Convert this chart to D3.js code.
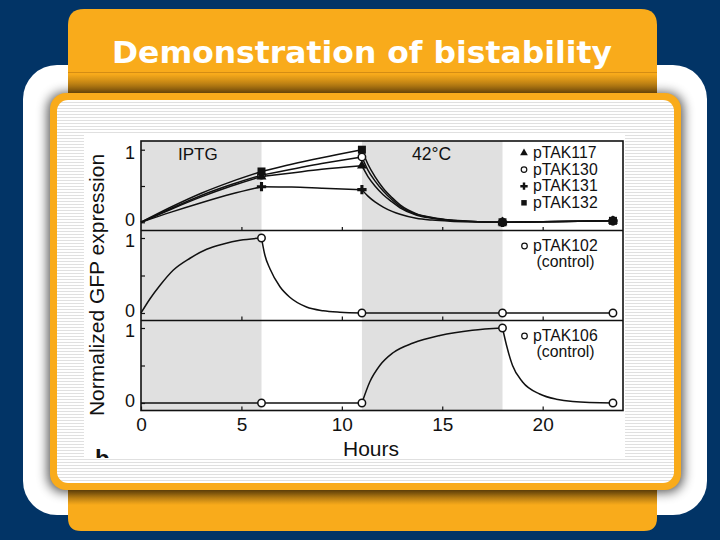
<!DOCTYPE html>
<html lang="en">
<head>
<meta charset="utf-8">
<title>Demonstration of bistability</title>
<script src="https://d3js.org/d3.v7.min.js"></script>
<style>
  html, body { margin: 0; padding: 0; background: #023466; }
  svg { display: block; }
  .chart text { font-family: "Liberation Sans", Arial, Helvetica, sans-serif; fill: #111; }
  .curve { fill: none; stroke: #111; stroke-width: 1.5px; }
  .tick line { stroke: #111; stroke-width: 1.2px; }
</style>
</head>
<body>
<div id="slide"></div>
<script>
// ---- values ----
var hours = [0, 5, 10, 15, 20];          // x tick labels
var markerTimes = [6, 11, 18, 23.5];     // sampling times (open/filled markers)
var breaks = [0, 6, 11, 18, 24];         // medium switches, curves kink here
var iptgWindow = [0, 6];
var heatWindow = [11, 18];

// top panel: toggle plasmids
var toggleNames = ["pTAK117", "pTAK130", "pTAK131", "pTAK132"];
var toggleSymbols = ["triangle", "circle", "plus", "square"];
var pTAK117 = [0.63, 0.78, 0.00, 0.02];
var pTAK130 = [0.65, 0.90, 0.00, 0.02];
var pTAK131 = [0.49, 0.45, 0.00, 0.02];
var pTAK132 = [0.70, 1.00, 0.00, 0.02];

var pTAK117Curve = [[0,0],[1.5,0.18],[3,0.35],[4.5,0.50],[6,0.63],[7.5,0.68],[9,0.73],[11,0.78],
  [11.3,0.63],[11.65,0.50],[12.06,0.38],[12.5,0.28],[12.9,0.20],[13.7,0.10],[14.5,0.055],[15.4,0.026],[16.5,0.01],[18,0],[23.5,0.02]];
var pTAK130Curve = [[0,0],[1.5,0.19],[3,0.37],[4.5,0.52],[6,0.65],[7.5,0.73],[9,0.81],[11,0.90],
  [11.3,0.72],[11.65,0.57],[12.06,0.43],[12.5,0.31],[12.9,0.22],[13.7,0.11],[14.5,0.06],[15.4,0.028],[16.5,0.011],[18,0],[23.5,0.02]];
var pTAK131Curve = [[0,0],[1.5,0.14],[3,0.27],[4.5,0.39],[6,0.49],[7.5,0.485],[9,0.47],[11,0.45],
  [11.3,0.36],[11.65,0.28],[12.06,0.21],[12.5,0.15],[12.9,0.11],[13.7,0.055],[14.5,0.03],[15.4,0.015],[16.5,0.006],[18,0],[23.5,0.02]];
var pTAK132Curve = [[0,0],[1.5,0.21],[3,0.40],[4.5,0.56],[6,0.70],[7.5,0.80],[9,0.89],[11,1.0],
  [11.3,0.80],[11.65,0.63],[12.06,0.47],[12.5,0.34],[12.9,0.24],[13.7,0.12],[14.5,0.065],[15.4,0.03],[16.5,0.012],[18,0],[23.5,0.02]];

// middle panel: control pTAK102
var pTAK102 = [1.0, 0.0, 0.0, 0.0];
var pTAK102Curve = [[0,0],[0.45,0.19],[0.95,0.37],[1.6,0.57],[2.44,0.73],[3.27,0.85],[4.1,0.92],[4.93,0.97],[6,1.0],
  [6.17,0.77],[6.42,0.59],[6.92,0.35],[7.41,0.21],[8.24,0.08],[9.07,0.03],[9.9,0.01],[11,0],[18,0],[23.5,0]];

// bottom panel: control pTAK106
var pTAK106 = [0.0, 0.0, 1.0, 0.0];
var pTAK106Curve = [[0,0],[6,0],[11,0],[11.39,0.28],[11.89,0.50],[12.55,0.67],[13.55,0.80],[14.88,0.90],[16.5,0.97],[18,1.0],
  [18.2,0.77],[18.5,0.50],[19.0,0.28],[19.85,0.12],[20.68,0.05],[21.5,0.02],[23.5,0]];

var orange = "#f9ab1b";

var svg = d3.select("#slide").append("svg")
  .attr("width", 720)
  .attr("height", 540);

var defs = svg.append("defs");

var stripes = defs.append("pattern")
  .attr("id", "stripes")
  .attr("patternUnits", "userSpaceOnUse")
  .attr("width", 6).attr("height", 3);
stripes.append("rect").attr("width", 6).attr("height", 3).attr("fill", "#ffffff");
stripes.append("rect").attr("width", 6).attr("height", 1).attr("fill", "#e0e0e0");

defs.append("filter")
  .attr("id", "shadow")
  .attr("x", "-10%").attr("y", "-10%").attr("width", "120%").attr("height", "120%")
  .append("feGaussianBlur").attr("stdDeviation", 6);

// darkening of the tabs where the panel overlaps them
var topShade = defs.append("linearGradient")
  .attr("id", "topShade").attr("x1", 0).attr("y1", 0).attr("x2", 0).attr("y2", 1);
topShade.append("stop").attr("offset", "0%").attr("stop-color", "#000").attr("stop-opacity", 0);
topShade.append("stop").attr("offset", "100%").attr("stop-color", "#3a2000").attr("stop-opacity", 0.5);
var bottomShade = defs.append("linearGradient")
  .attr("id", "bottomShade").attr("x1", 0).attr("y1", 0).attr("x2", 0).attr("y2", 1);
bottomShade.append("stop").attr("offset", "0%").attr("stop-color", "#3a2000").attr("stop-opacity", 0.45);
bottomShade.append("stop").attr("offset", "100%").attr("stop-color", "#000").attr("stop-opacity", 0);

defs.append("clipPath").attr("id", "chartClip")
  .append("rect").attr("x", 84).attr("y", 133).attr("width", 541).attr("height", 325);

// ---- slide chrome ----
svg.append("rect").attr("width", 720).attr("height", 540).attr("fill", "#023466");

svg.append("rect")
  .attr("x", 23).attr("y", 65).attr("width", 684).attr("height", 450)
  .attr("rx", 34).attr("fill", "#ffffff");

svg.append("path")
  .attr("d", "M68,100 V25 Q68,9 84,9 H641 Q657,9 657,25 V100 Z")
  .attr("fill", orange);
svg.append("line")
  .attr("x1", 68).attr("x2", 657).attr("y1", 72.5).attr("y2", 72.5)
  .attr("stroke", "#d48d14").attr("stroke-width", 1);
svg.append("rect")
  .attr("x", 68).attr("y", 74).attr("width", 589).attr("height", 20)
  .attr("fill", "url(#topShade)");

svg.append("path")
  .attr("d", "M68,480 H657 V518 Q657,531 644,531 H81 Q68,531 68,518 Z")
  .attr("fill", orange);
svg.append("rect")
  .attr("x", 68).attr("y", 489).attr("width", 589).attr("height", 16)
  .attr("fill", "url(#bottomShade)");

// shadow of the main panel
svg.append("rect")
  .attr("x", 48).attr("y", 93).attr("width", 635).attr("height", 399)
  .attr("rx", 16).attr("fill", "#000").attr("opacity", 0.7)
  .attr("filter", "url(#shadow)");

svg.append("rect")
  .attr("x", 50).attr("y", 93).attr("width", 631).attr("height", 397)
  .attr("rx", 16).attr("fill", orange);
svg.append("rect")
  .attr("x", 57).attr("y", 100).attr("width", 617).attr("height", 383)
  .attr("rx", 11).attr("fill", "url(#stripes)");

svg.append("text")
  .attr("x", 362).attr("y", 63)
  .attr("text-anchor", "middle")
  .attr("textLength", 500).attr("lengthAdjust", "spacingAndGlyphs")
  .style("font-family", "'DejaVu Sans', Verdana, sans-serif")
  .style("font-weight", "bold")
  .style("font-size", "31px")
  .attr("fill", "#ffffff")
  .text("Demonstration of bistability");

// ---- the figure ----
var chart = svg.append("g")
  .attr("class", "chart")
  .attr("clip-path", "url(#chartClip)");

chart.append("rect")
  .attr("x", 84).attr("y", 133).attr("width", 541).attr("height", 325)
  .attr("fill", "#ffffff");

var x = d3.scaleLinear().domain([0, 24]).range([141, 623]);
var panelTops = [141, 230.5, 320.5];
var panelH = 90;
var panelDomains = [[-0.12, 1.12], [-0.1, 1.1], [-0.1, 1.1]];
var plotTop = panelTops[0], plotBottom = panelTops[2] + panelH;

[iptgWindow, heatWindow].forEach(function(w) {
  chart.append("rect")
    .attr("x", x(w[0])).attr("width", x(w[1]) - x(w[0]))
    .attr("y", plotTop).attr("height", plotBottom - plotTop)
    .attr("fill", "#e0e0e0");
});

var ys = panelTops.map(function(top, i) {
  return d3.scaleLinear().domain(panelDomains[i]).range([top + panelH, top]);
});

// axes
ys.forEach(function(y, i) {
  var ya = chart.append("g")
    .attr("transform", "translate(" + x(0) + ",0)")
    .call(d3.axisLeft(y).tickValues([0, 0.5, 1]).tickSize(-4).tickPadding(6)
      .tickFormat(function(d) { return d === 0.5 ? "" : d3.format("d")(d); }));
  ya.select(".domain").remove();
  ya.selectAll("text")
    .style("font-size", "18px")
    .attr("dy", function(d) { return d === 1 ? "8.5px" : "3px"; });

  var last = i === ys.length - 1;
  var xa = chart.append("g")
    .attr("transform", "translate(0," + (panelTops[i] + panelH) + ")")
    .call(d3.axisBottom(x).tickValues(last ? hours : hours.slice(1)).tickSize(-4).tickPadding(7)
      .tickFormat(last ? d3.format("d") : function() { return ""; }));
  xa.select(".domain").remove();
  xa.selectAll("text").style("font-size", "19px");
});

// frame
chart.append("rect")
  .attr("x", x(0)).attr("y", plotTop)
  .attr("width", x(24) - x(0)).attr("height", plotBottom - plotTop)
  .attr("fill", "none").attr("stroke", "#111").attr("stroke-width", 1.6);
[panelTops[1], panelTops[2]].forEach(function(py) {
  chart.append("line")
    .attr("x1", x(0)).attr("x2", x(24)).attr("y1", py).attr("y2", py)
    .attr("stroke", "#111").attr("stroke-width", 1.6);
});

// curves, split at medium switches so the kinks stay sharp
function drawCurve(points, y) {
  var line = d3.line()
    .x(function(d) { return x(d[0]); })
    .y(function(d) { return y(d[1]); })
    .curve(d3.curveMonotoneX);
  for (var k = 0; k < breaks.length - 1; k++) {
    var piece = points.filter(function(d) { return d[0] >= breaks[k] && d[0] <= breaks[k + 1]; });
    if (piece.length > 1) {
      chart.append("path").attr("class", "curve").attr("d", line(piece));
    }
  }
}

var symbolType = {
  triangle: d3.symbolTriangle,
  plus: d3.symbolCross,
  square: d3.symbolSquare
};

function drawMarker(g, kind, cx, cy, big) {
  if (kind === "circle") {
    g.append("circle")
      .attr("cx", cx).attr("cy", cy).attr("r", big ? 3.7 : 2.8)
      .attr("fill", "#fff").attr("stroke", "#111").attr("stroke-width", big ? 1.5 : 1.2);
  } else {
    var size = big ? { triangle: 42, plus: 48, square: 64 }[kind] : { triangle: 26, plus: 30, square: 30 }[kind];
    g.append("path")
      .attr("transform", "translate(" + cx + "," + cy + ")")
      .attr("d", d3.symbol().type(symbolType[kind]).size(size)())
      .attr("fill", "#111");
  }
}

// top panel
var toggleCurves = [pTAK117Curve, pTAK130Curve, pTAK131Curve, pTAK132Curve];
var toggleValues = [pTAK117, pTAK130, pTAK131, pTAK132];
toggleCurves.forEach(function(c) { drawCurve(c, ys[0]); });
[1, 0, 2, 3].forEach(function(s) {
  toggleValues[s].forEach(function(v, j) {
    drawMarker(chart, toggleSymbols[s], x(markerTimes[j]), ys[0](v), true);
  });
});

// controls
drawCurve(pTAK102Curve, ys[1]);
pTAK102.forEach(function(v, j) { drawMarker(chart, "circle", x(markerTimes[j]), ys[1](v), true); });
drawCurve(pTAK106Curve, ys[2]);
pTAK106.forEach(function(v, j) { drawMarker(chart, "circle", x(markerTimes[j]), ys[2](v), true); });

// labels
chart.append("text").attr("x", 178).attr("y", 160).style("font-size", "17px").text("IPTG");
chart.append("text").attr("x", 412).attr("y", 160).style("font-size", "17.5px").text("42\u00B0C");

toggleNames.forEach(function(name, i) {
  var by = 158 + i * 16.6;
  drawMarker(chart, toggleSymbols[i], 524, by - 5, false);
  chart.append("text").attr("x", 533).attr("y", by).style("font-size", "15.8px").text(name);
});

[["pTAK102", panelTops[1]], ["pTAK106", panelTops[2]]].forEach(function(l) {
  var by = l[1] + 20.5;
  drawMarker(chart, "circle", 524.5, by - 5, false);
  chart.append("text").attr("x", 533).attr("y", by).style("font-size", "15.8px").text(l[0]);
  chart.append("text").attr("x", 565.5).attr("y", by + 16).attr("text-anchor", "middle")
    .style("font-size", "15.8px").text("(control)");
});

chart.append("text")
  .attr("transform", "translate(104,285) rotate(-90)")
  .attr("text-anchor", "middle")
  .style("font-size", "21px")
  .text("Normalized GFP expression");

chart.append("text")
  .attr("x", 371).attr("y", 456)
  .attr("text-anchor", "middle")
  .style("font-size", "21px")
  .text("Hours");

chart.append("text")
  .attr("x", 95).attr("y", 467)
  .style("font-size", "24px").style("font-weight", "bold")
  .text("b");
</script>
</body>
</html>
